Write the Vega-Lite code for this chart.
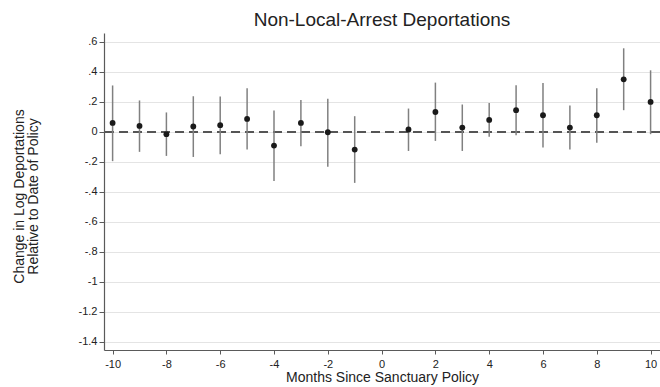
{
  "$schema": "https://vega.github.io/schema/vega-lite/v6.json",
  "width": 556,
  "height": 317,
  "autosize": "none",
  "padding": {"left": 104, "top": 33, "right": 0, "bottom": 37},
  "background": "white",
  "config": {
    "font": "Liberation Sans",
    "view": {"stroke": null},
    "axis": {
      "labelFont": "Liberation Sans",
      "titleFont": "Liberation Sans",
      "labelColor": "#222222",
      "titleColor": "#222222",
      "titleFontWeight": "normal",
      "domainColor": "#5a5a5a",
      "domainWidth": 1.2,
      "tickColor": "#5a5a5a",
      "tickWidth": 1,
      "tickSize": 5,
      "labelFontSize": 11
    }
  },
  "title": {
    "text": "Non-Local-Arrest Deportations",
    "font": "Liberation Sans",
    "fontSize": 19,
    "fontWeight": "normal",
    "color": "#222222",
    "anchor": "middle",
    "offset": 3
  },
  "data": {
    "values": [
      {"month": -10, "est": 0.060, "lo": -0.195, "hi": 0.310},
      {"month": -9, "est": 0.040, "lo": -0.133, "hi": 0.210},
      {"month": -8, "est": -0.015, "lo": -0.160, "hi": 0.130},
      {"month": -7, "est": 0.036, "lo": -0.167, "hi": 0.238},
      {"month": -6, "est": 0.045, "lo": -0.149, "hi": 0.236},
      {"month": -5, "est": 0.087, "lo": -0.118, "hi": 0.291},
      {"month": -4, "est": -0.091, "lo": -0.327, "hi": 0.143},
      {"month": -3, "est": 0.060, "lo": -0.096, "hi": 0.213},
      {"month": -2, "est": -0.002, "lo": -0.233, "hi": 0.222},
      {"month": -1, "est": -0.118, "lo": -0.340, "hi": 0.105},
      {"month": 1, "est": 0.016, "lo": -0.127, "hi": 0.156},
      {"month": 2, "est": 0.133, "lo": -0.060, "hi": 0.329},
      {"month": 3, "est": 0.029, "lo": -0.127, "hi": 0.183},
      {"month": 4, "est": 0.080, "lo": -0.033, "hi": 0.193},
      {"month": 5, "est": 0.145, "lo": -0.022, "hi": 0.311},
      {"month": 6, "est": 0.111, "lo": -0.104, "hi": 0.327},
      {"month": 7, "est": 0.029, "lo": -0.118, "hi": 0.176},
      {"month": 8, "est": 0.111, "lo": -0.073, "hi": 0.291},
      {"month": 9, "est": 0.351, "lo": 0.145, "hi": 0.558},
      {"month": 10, "est": 0.200, "lo": -0.015, "hi": 0.411}
    ]
  },
  "encoding": {
    "x": {
      "field": "month",
      "type": "quantitative",
      "scale": {"domain": [-10.32, 10.35], "nice": false, "zero": false},
      "axis": {
        "values": [-10, -8, -6, -4, -2, 0, 2, 4, 6, 8, 10],
        "tickCount": 21,
        "grid": false,
        "tickSize": 4,
        "labelOverlap": false,
        "labelFlush": false,
        "labelBound": false,
        "labelExpr": "(datum.value < 0 ? '-' : '') + format(abs(datum.value), 'd')",
        "labelPadding": 4,
        "labelLineHeight": 11,
        "title": "Months Since Sanctuary Policy",
        "titleFontSize": 14,
        "titleLineHeight": 14,
        "titlePadding": 1
      }
    }
  },
  "layer": [
    {
      "mark": {"type": "rule", "color": "#555555", "strokeWidth": 1.5, "strokeDash": [9, 5]},
      "encoding": {"y": {"datum": 0, "type": "quantitative"}, "x": null}
    },
    {
      "mark": {"type": "rule", "color": "#808080", "strokeWidth": 1.5},
      "encoding": {
        "y": {
          "field": "lo",
          "type": "quantitative",
          "scale": {"domain": [-1.455, 0.66], "nice": false, "zero": false},
          "axis": {
            "values": [-1.4, -1.2, -1, -0.8, -0.6, -0.4, -0.2, 0, 0.2, 0.4, 0.6],
            "tickCount": 21,
            "grid": true,
            "gridColor": "#e4e4e4",
            "gridWidth": 1,
            "labelOverlap": false,
            "labelFlush": false,
            "labelBound": false,
            "labelExpr": "(datum.value < -0.001 ? '-' : '') + replace(format(abs(datum.value), '.1~f'), '0.', '.')",
            "labelPadding": 2,
            "title": ["Change in Log Deportations", "Relative to Date of Policy"],
            "titleFontSize": 14,
            "titleLineHeight": 14,
            "titleAngle": -90,
            "titleAlign": "center",
            "titleBaseline": "top",
            "titleX": -92,
            "titleY": 163
          }
        },
        "y2": {"field": "hi"}
      }
    },
    {
      "mark": {"type": "point", "filled": true, "color": "#1a1a1a", "opacity": 1, "size": 34},
      "encoding": {"y": {"field": "est", "type": "quantitative"}}
    }
  ]
}
